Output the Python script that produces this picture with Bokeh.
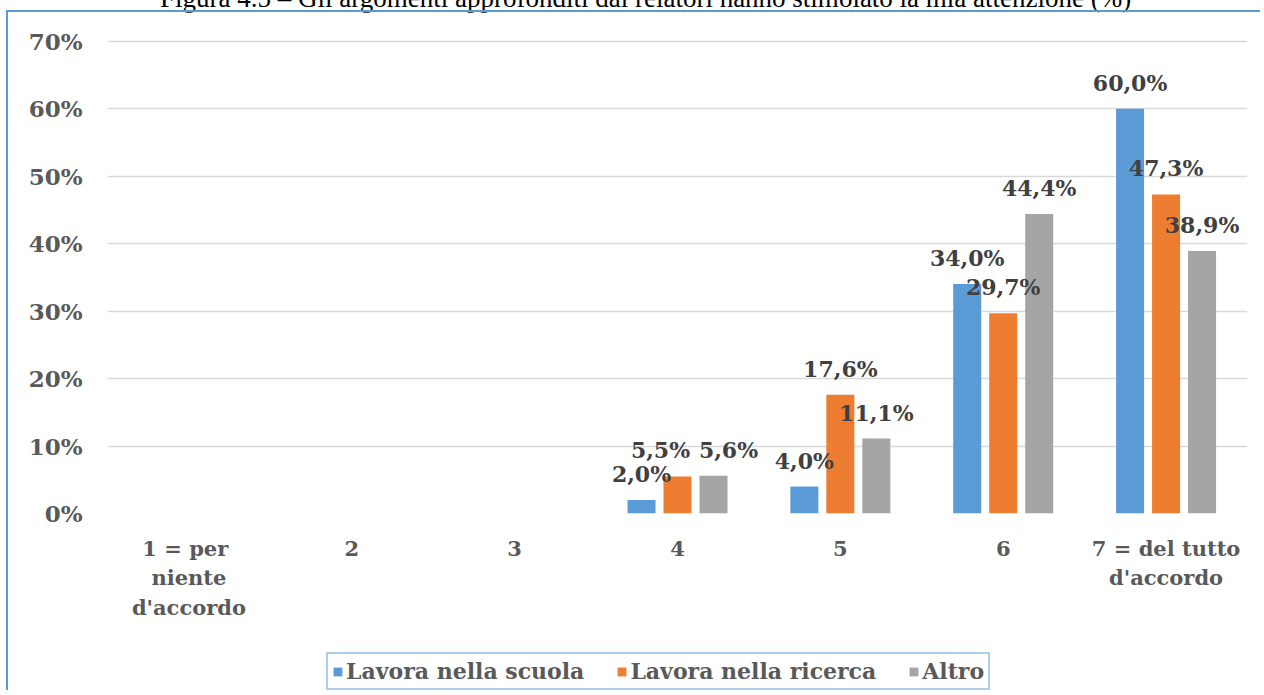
from bokeh.plotting import figure
from bokeh.models import (ColumnDataSource, FactorRange, Range1d, LabelSet, Legend,
                          LegendItem, Div, FixedTicker)
from bokeh.core.properties import value
from bokeh.transform import dodge
from bokeh.layouts import column
from bokeh.embed import file_html
from bokeh.resources import INLINE

# ---------------- data ----------------
title_text = "Figura 4.5 – Gli argomenti approfonditi dai relatori hanno stimolato la mia attenzione (%)"
categories = ["1  = per\nniente\nd'accordo", "2", "3", "4", "5", "6", "7 = del tutto\nd'accordo"]
series_names = ["Lavora nella scuola", "Lavora nella ricerca", "Altro"]
scuola = [0, 0, 0, 2.0, 4.0, 34.0, 60.0]
ricerca = [0, 0, 0, 5.5, 17.6, 29.7, 47.3]
altro = [0, 0, 0, 5.6, 11.1, 44.4, 38.9]
y_ticks = [0, 10, 20, 30, 40, 50, 60, 70]
y_tick_labels = ["0%", "10%", "20%", "30%", "40%", "50%", "60%", "70%"]

# ---------------- styles ----------------
colors = ["#5b9bd5", "#ed7d31", "#a5a5a5"]
offsets = [-0.221, 0.0, 0.221]
label_dx = [
    [0, 0, 0, 0, 0, 0, 0],
    [0, 0, 0, -17, 0, 0, 0],
    [0, 0, 0, 15, 0, 0, 0],
]
FONT = "DejaVu Serif"
BORDER = "#5b9bd5"

p = figure(
    x_range=FactorRange(*categories, range_padding=0),
    y_range=Range1d(0, 71),
    width=1254, height=633,
    output_backend="svg", toolbar_location=None,
    min_border_left=99, min_border_right=15, min_border_top=22, min_border_bottom=132,
    margin=(0, 0, 0, 6),
    styles={"border-left": f"2px solid {BORDER}", "border-top": f"2px solid {BORDER}"},
)
p.outline_line_color = None
p.background_fill_color = "white"
p.border_fill_color = "white"

p.xgrid.grid_line_color = None
p.ygrid.grid_line_color = "#d9d9d9"
p.ygrid.grid_line_width = 1.5
p.ygrid.ticker = FixedTicker(ticks=y_ticks)

p.yaxis.ticker = FixedTicker(ticks=y_ticks)
p.yaxis.major_label_overrides = {t: l for t, l in zip(y_ticks, y_tick_labels)}
for ax in (p.xaxis, p.yaxis):
    ax.axis_line_color = None
    ax.major_tick_line_color = None
    ax.minor_tick_line_color = None
    ax.major_tick_out = 0
    ax.major_tick_in = 0
    ax.major_label_text_font = FONT
    ax.major_label_text_font_style = "bold"
    ax.major_label_text_color = "#595959"
p.yaxis.major_label_text_font_size = "23px"
p.yaxis.major_label_standoff = 25
p.xaxis.major_label_text_font_size = "21px"
p.xaxis.major_label_standoff = 22
p.xaxis.major_label_text_line_height = 1.18

series = [scuola, ricerca, altro]
for i, (name, vals) in enumerate(zip(series_names, series)):
    src = ColumnDataSource(dict(cat=categories, val=vals))
    p.vbar(x=dodge("cat", offsets[i], range=p.x_range), top="val", width=0.172,
           source=src, fill_color=colors[i], line_color=None)
    cats_nz = [c for c, v in zip(categories, vals) if v > 0]
    vals_nz = [v for v in vals if v > 0]
    dx_nz = [d for d, v in zip(label_dx[i], vals) if v > 0]
    txt = [f"{v:.1f}".replace(".", ",") + "%" for v in vals_nz]
    lsrc = ColumnDataSource(dict(cat=cats_nz, val=vals_nz, txt=txt, dx=dx_nz))
    labels = LabelSet(x=dodge("cat", offsets[i], range=p.x_range), y="val", text="txt",
                      x_offset="dx", y_offset=26, source=lsrc,
                      text_align="center", text_baseline="middle",
                      text_font=value(FONT), text_font_style="bold", text_font_size="22px",
                      text_color="#404040")
    p.add_layout(labels)

# ---------------- legend strip (second figure below the chart) ----------------
pl = figure(
    x_range=Range1d(0, 1), y_range=Range1d(0, 1),
    width=1254, height=47, output_backend="svg", toolbar_location=None,
    x_axis_type=None, y_axis_type=None,
    min_border=0, min_border_left=0, min_border_right=0, min_border_top=0, min_border_bottom=0,
    margin=(0, 0, 0, 6),
    styles={"border-left": f"2px solid {BORDER}"},
)
pl.outline_line_color = None
pl.background_fill_color = "white"
pl.border_fill_color = "white"
pl.grid.visible = False
# zero-height proxies: they draw nothing, they only give the legend its swatches
legend_renderers = [
    pl.vbar(x=[0.5], top=[0], width=0.01, fill_color=c, line_color=None) for c in colors
]
legend = Legend(
    items=[LegendItem(label=n, renderers=[r]) for n, r in zip(series_names, legend_renderers)],
    orientation="horizontal", location=(219, 0),
    glyph_width=11, glyph_height=11, label_standoff=3, spacing=32, padding=4, margin=0,
    label_text_font=FONT, label_text_font_style="bold", label_text_font_size="22px",
    label_text_color="#595959",
    border_line_color=BORDER, border_line_width=2, background_fill_color="white",
    background_fill_alpha=1.0,
)
pl.add_layout(legend, "center")

title_div = Div(
    text=title_text, width=1250, height=22, margin=(-12, 0, 0, 0),
    styles={"font-family": "Liberation Serif", "font-size": "27px", "line-height": "20px",
            "text-align": "left", "text-indent": "160px", "color": "#000000",
            "white-space": "nowrap"},
)

layout = column(title_div, p, pl, spacing=0)

with open("out.html", "w") as f:
    f.write(file_html(layout, INLINE))
